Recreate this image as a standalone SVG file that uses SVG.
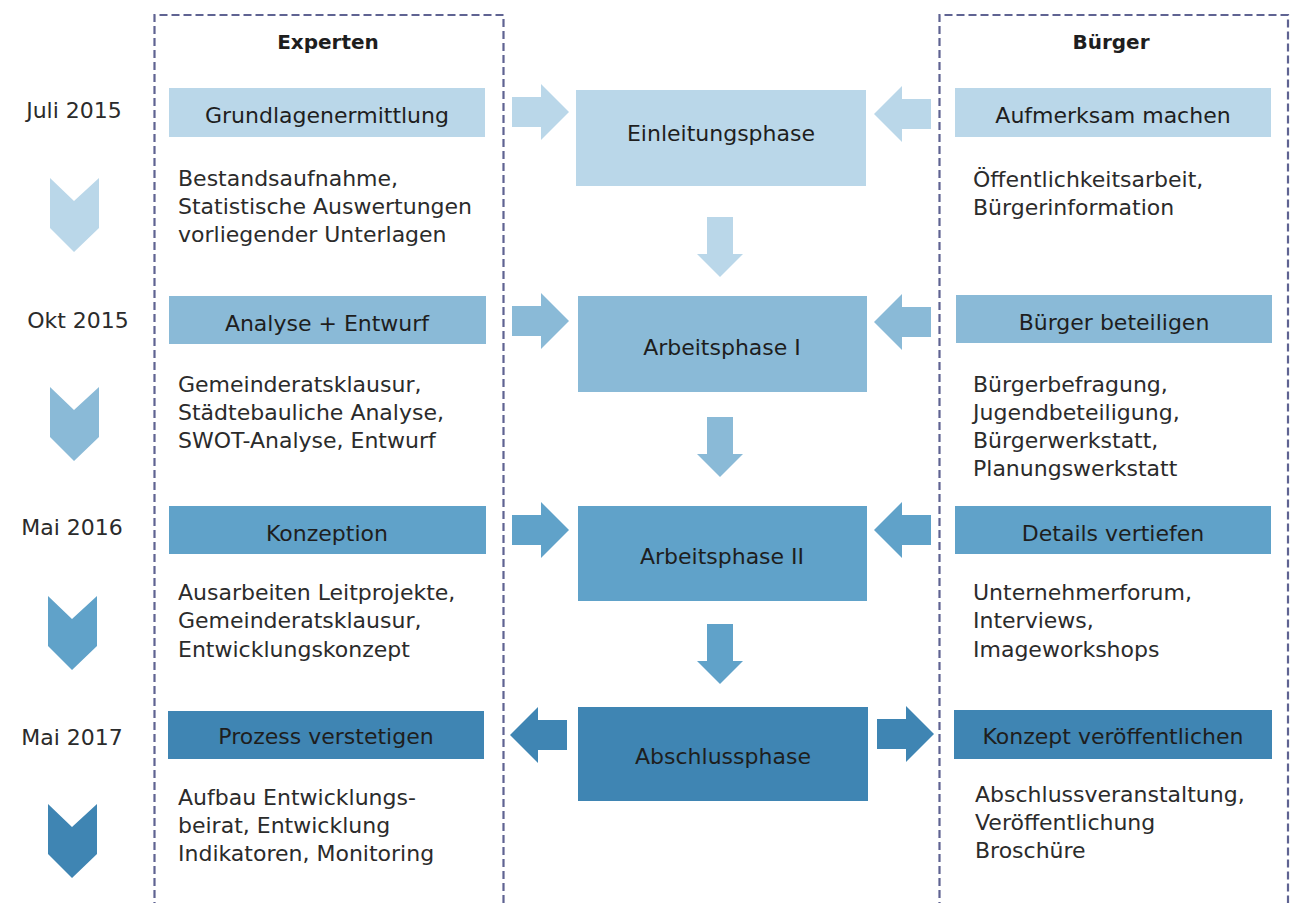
<svg xmlns="http://www.w3.org/2000/svg" width="1300" height="903" viewBox="0 0 1300 903">
<style>
text{font-family:"DejaVu Sans","Liberation Sans",sans-serif;font-size:22px;fill:#1e1e1e}
.hd{font-weight:bold;font-size:20px;text-anchor:middle}
.lb{text-anchor:middle}
.ds{fill:#2b2b2b}
.dt{fill:#2b2b2b;text-anchor:middle;font-size:22px}
.lane{fill:none;stroke:#5f6392;stroke-width:2.2;stroke-dasharray:8 4}
.c1{fill:#bad7e9}
.c2{fill:#8abad7}
.c3{fill:#60a2c9}
.c4{fill:#3f85b3}
</style>
<defs>
<path id="chev" d="M0,0 L24,23 L49,0 L49,50 L24,74 L0,50 Z"/>
<path id="arR" d="M0,-15 H29 V-28 L57,0 L29,28 V15 H0 Z"/>
<path id="arL" d="M0,-15 H-29 V-28 L-57,0 L-29,28 V15 H0 Z"/>
<path id="arD" d="M-13,0 H13 V37 H23 L0,60 L-23,37 H-13 Z"/>
</defs>

<g id="lanes">
<path class="lane" d="M154.5,910 V15 H503.5 V910"/>
<path class="lane" d="M939.5,910 V15 H1288 V910"/>
<text class="hd" x="328" y="49">Experten</text>
<text class="hd" x="1111" y="49">Bürger</text>
</g>

<g id="timeline">
<text class="dt" x="74" y="118">Juli 2015</text>
<use href="#chev" class="c1" x="50" y="178"/>
<text class="dt" x="78" y="328">Okt 2015</text>
<use href="#chev" class="c2" x="50" y="387"/>
<text class="dt" x="72" y="535">Mai 2016</text>
<use href="#chev" class="c3" x="48" y="596"/>
<text class="dt" x="72" y="745">Mai 2017</text>
<use href="#chev" class="c4" x="48" y="804"/>
</g>

<g id="connectors">
<use href="#arR" class="c1" x="512" y="112"/>
<use href="#arL" class="c1" x="931" y="114"/>
<use href="#arD" class="c1" x="720" y="217"/>
<use href="#arR" class="c2" x="512" y="321"/>
<use href="#arL" class="c2" x="931" y="322"/>
<use href="#arD" class="c2" x="720" y="417"/>
<use href="#arR" class="c3" x="512" y="530"/>
<use href="#arL" class="c3" x="931" y="530"/>
<use href="#arD" class="c3" x="720" y="624"/>
<use href="#arL" class="c4" x="567" y="735"/>
<use href="#arR" class="c4" x="877" y="734"/>
</g>

<g id="n-grundlagen">
<rect class="c1" x="169" y="88" width="316" height="49"/>
<text class="lb" x="327" y="123">Grundlagenermittlung</text>
<text class="ds" x="178" y="186">Bestandsaufnahme,</text>
<text class="ds" x="178" y="214">Statistische Auswertungen</text>
<text class="ds" x="178" y="242">vorliegender Unterlagen</text>
</g>
<g id="n-einleitung">
<rect class="c1" x="576" y="90" width="290" height="96"/>
<text class="lb" x="721" y="141">Einleitungsphase</text>
</g>
<g id="n-aufmerksam">
<rect class="c1" x="955" y="88" width="316" height="49"/>
<text class="lb" x="1113" y="123">Aufmerksam machen</text>
<text class="ds" x="973" y="187">Öffentlichkeitsarbeit,</text>
<text class="ds" x="973" y="215">Bürgerinformation</text>
</g>

<g id="n-analyse">
<rect class="c2" x="169" y="296" width="317" height="48"/>
<text class="lb" x="327" y="331">Analyse + Entwurf</text>
<text class="ds" x="178" y="392">Gemeinderatsklausur,</text>
<text class="ds" x="178" y="420">Städtebauliche Analyse,</text>
<text class="ds" x="178" y="448">SWOT-Analyse, Entwurf</text>
</g>
<g id="n-arbeitsphase1">
<rect class="c2" x="578" y="296" width="289" height="96"/>
<text class="lb" x="722" y="355">Arbeitsphase I</text>
</g>
<g id="n-beteiligen">
<rect class="c2" x="956" y="295" width="316" height="48"/>
<text class="lb" x="1114" y="330">Bürger beteiligen</text>
<text class="ds" x="973" y="392">Bürgerbefragung,</text>
<text class="ds" x="973" y="420">Jugendbeteiligung,</text>
<text class="ds" x="973" y="448">Bürgerwerkstatt,</text>
<text class="ds" x="973" y="476">Planungswerkstatt</text>
</g>

<g id="n-konzeption">
<rect class="c3" x="169" y="506" width="317" height="48"/>
<text class="lb" x="327" y="541">Konzeption</text>
<text class="ds" x="178" y="600">Ausarbeiten Leitprojekte,</text>
<text class="ds" x="178" y="628">Gemeinderatsklausur,</text>
<text class="ds" x="178" y="657">Entwicklungskonzept</text>
</g>
<g id="n-arbeitsphase2">
<rect class="c3" x="578" y="506" width="289" height="95"/>
<text class="lb" x="722" y="564">Arbeitsphase II</text>
</g>
<g id="n-details">
<rect class="c3" x="955" y="506" width="316" height="48"/>
<text class="lb" x="1113" y="541">Details vertiefen</text>
<text class="ds" x="973" y="600">Unternehmerforum,</text>
<text class="ds" x="973" y="628">Interviews,</text>
<text class="ds" x="973" y="657">Imageworkshops</text>
</g>

<g id="n-verstetigen">
<rect class="c4" x="168" y="711" width="316" height="48"/>
<text class="lb" x="326" y="744">Prozess verstetigen</text>
<text class="ds" x="178" y="805">Aufbau Entwicklungs-</text>
<text class="ds" x="178" y="833">beirat, Entwicklung</text>
<text class="ds" x="178" y="861">Indikatoren, Monitoring</text>
</g>
<g id="n-abschluss">
<rect class="c4" x="578" y="707" width="290" height="94"/>
<text class="lb" x="723" y="764">Abschlussphase</text>
</g>
<g id="n-veroeffentlichen">
<rect class="c4" x="954" y="710" width="318" height="49"/>
<text class="lb" x="1113" y="744">Konzept veröffentlichen</text>
<text class="ds" x="975" y="802">Abschlussveranstaltung,</text>
<text class="ds" x="975" y="830">Veröffentlichung</text>
<text class="ds" x="975" y="858">Broschüre</text>
</g>
</svg>
